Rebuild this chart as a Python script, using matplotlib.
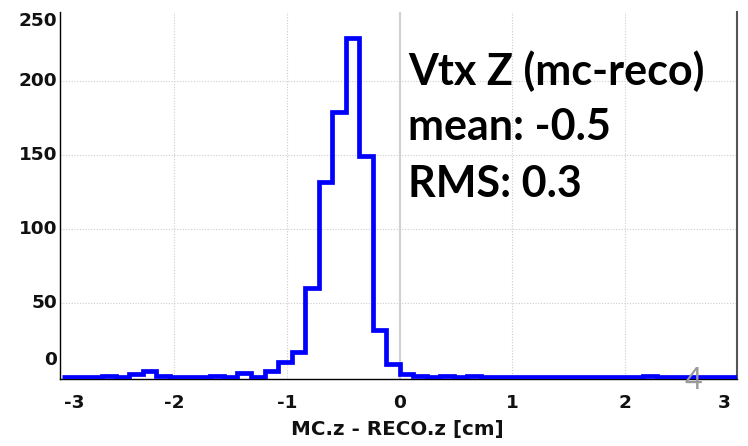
import numpy as np
import matplotlib
matplotlib.use("Agg")
import matplotlib.pyplot as plt
from matplotlib import transforms

# Histogram of z-vertex residuals: 50 bins from -3 to 3 cm
bin_edges = np.linspace(-3.0, 3.0, 51)
counts = [0, 0, 0, 1, 0, 2, 4, 1, 0, 0,
          0, 1, 0, 3, 0, 4, 10, 17, 60, 132,
          179, 229, 149, 32, 9, 2, 1, 0, 1, 0,
          1, 0, 0, 0, 0, 0, 0, 0, 0, 0,
          0, 0, 0, 1, 0, 0, 0, 0, 0, 0]

x_ticks = [-3, -2, -1, 0, 1, 2, 3]
y_ticks = [0, 50, 100, 150, 200, 250]
x_label = "MC.z - RECO.z [cm]"
stats_lines = ["Vtx Z (mc-reco)", "mean: -0.5", "RMS: 0.3"]
page_number = "4"

W, H = 748, 446
fig = plt.figure(figsize=(W / 100, H / 100), dpi=100)
fig.patch.set_facecolor("white")

# axes box in pixels: left 60, right 737, bottom 379, top 12
ax = fig.add_axes([60 / W, (H - 378.7) / H, 677.3 / W, (378.7 - 12) / H])
ax.set_xlim(-3.015, 2.995)
ax.set_ylim(-1.15, 246.6)

# grid
for xv in x_ticks[1:-1]:
    if xv == 0:
        ax.axvline(xv, color="#d2d2d2", lw=1.6, zorder=0)
    else:
        ax.axvline(xv, color="#cccccc", lw=0.8, ls=(0, (1, 1.5)), zorder=0)
for yv in y_ticks[1:-1]:
    ax.axhline(yv, color="#cccccc", lw=0.8, ls=(0, (1, 1.5)), zorder=0)

ax.stairs(counts, bin_edges, baseline=0, color="#0000ff", linewidth=3.4,
          zorder=3)

ax.spines["top"].set_visible(False)
ax.spines["left"].set_color("black")
ax.spines["left"].set_linewidth(1.0)
ax.spines["bottom"].set_color("black")
ax.spines["bottom"].set_linewidth(1.0)
ax.spines["right"].set_color("#555555")
ax.spines["right"].set_linewidth(1.5)
ax.set_xticks([])
ax.set_yticks([])

tick_font = dict(family="DejaVu Sans", weight="bold", size=13.3,
                 color="#111111")

# x tick labels, end labels pulled inward
xtrans = transforms.blended_transform_factory(ax.transData, ax.transAxes)
for xv in x_ticks:
    dx = 0
    if xv == x_ticks[0]:
        dx = 13
    elif xv == x_ticks[-1]:
        dx = -14
    t = transforms.offset_copy(xtrans, fig=fig, x=dx, y=-15.5, units="dots")
    ax.text(xv, 0, str(xv), transform=t, ha="center",
            va="top", clip_on=False, **tick_font)

# y tick labels, end labels pulled inward
ytrans = transforms.blended_transform_factory(ax.transAxes, ax.transData)
for yv in y_ticks:
    dy = 0
    if yv == y_ticks[0]:
        dy = 17
    elif yv == y_ticks[-1]:
        dy = -13.7
    t = transforms.offset_copy(ytrans, fig=fig, x=-3, y=dy, units="dots")
    ax.text(0, yv, str(yv), transform=t, ha="right", va="center",
            clip_on=False, **tick_font)

fig.text(397.5 / W, 1 - 429 / H, x_label, ha="center", va="center",
         family="DejaVu Sans", weight="bold", size=14.3, color="#111111")

# statistics box text
baselines = [85, 140, 196.7]
for line, yb in zip(stats_lines, baselines):
    fig.text(408 / W, 1 - yb / H, line, ha="left", va="baseline",
             family="Lato", weight="bold", size=31, color="black")

fig.text(693 / W, 1 - 380 / H, page_number, ha="center", va="center",
         family="Lato", size=22, color="#999999")

fig.savefig("out.png", dpi=100)
